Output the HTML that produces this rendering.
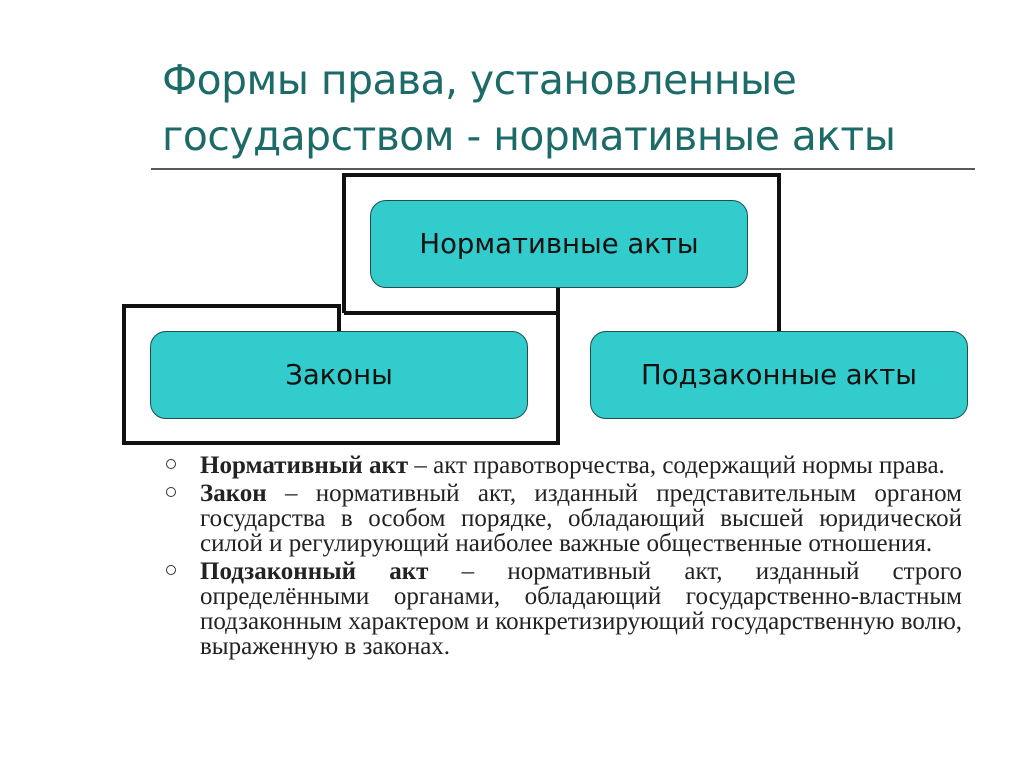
<!DOCTYPE html>
<html><head><meta charset="utf-8"><style>
body{margin:0;width:1024px;height:767px;background:#fff;position:relative;overflow:hidden}
.t{position:absolute;left:162px;top:52px;font:40.8px/56px "DejaVu Sans","Liberation Sans",sans-serif;color:#1d6b68;letter-spacing:-0.5px}
.box{position:absolute;background:#33cccc;border:1.5px solid #1f4f4f;border-radius:16px;box-sizing:border-box;display:flex;align-items:center;justify-content:center;font:27.5px "DejaVu Sans","Liberation Sans",sans-serif;color:#111}
.txt{position:absolute;left:200px;top:453px;width:762px;font:25px/25px "Liberation Serif",serif;color:#222;text-align:justify}
.txt p{margin:0 0 3px 0;position:relative}
.txt p:before{content:"";position:absolute;left:-34px;top:6px;width:8px;height:8px;border:1.5px solid #333;border-radius:50%}
</style></head><body>
<div class="t">Формы права, установленные<br>государством - нормативные акты</div>
<svg width="1024" height="767" style="position:absolute;left:0;top:0">
<line x1="151" y1="169" x2="975" y2="169" stroke="#222" stroke-width="1.5"/>
<polyline points="344,313 344,175 779,175 779,331" fill="none" stroke="#111" stroke-width="4"/>
<line x1="344" y1="313" x2="558" y2="313" stroke="#111" stroke-width="4"/>
<polyline points="339,331 339,306 124,306 124,443 558,443 558,288" fill="none" stroke="#111" stroke-width="4"/>
</svg>
<div class="box" style="left:370px;top:200px;width:378px;height:88px">Нормативные акты</div>
<div class="box" style="left:150px;top:331px;width:378px;height:88px">Законы</div>
<div class="box" style="left:590px;top:331px;width:378px;height:88px">Подзаконные акты</div>
<div class="txt">
<p><b>Нормативный акт</b> – акт правотворчества, содержащий нормы права.</p>
<p><b>Закон</b> – нормативный акт, изданный представительным органом государства в особом порядке, обладающий высшей юридической силой и регулирующий наиболее важные общественные отношения.</p>
<p><b>Подзаконный акт</b> – нормативный акт, изданный строго определёнными органами, обладающий государственно-властным подзаконным характером и конкретизирующий государственную волю, выраженную в законах.</p>
</div>
</body></html>
